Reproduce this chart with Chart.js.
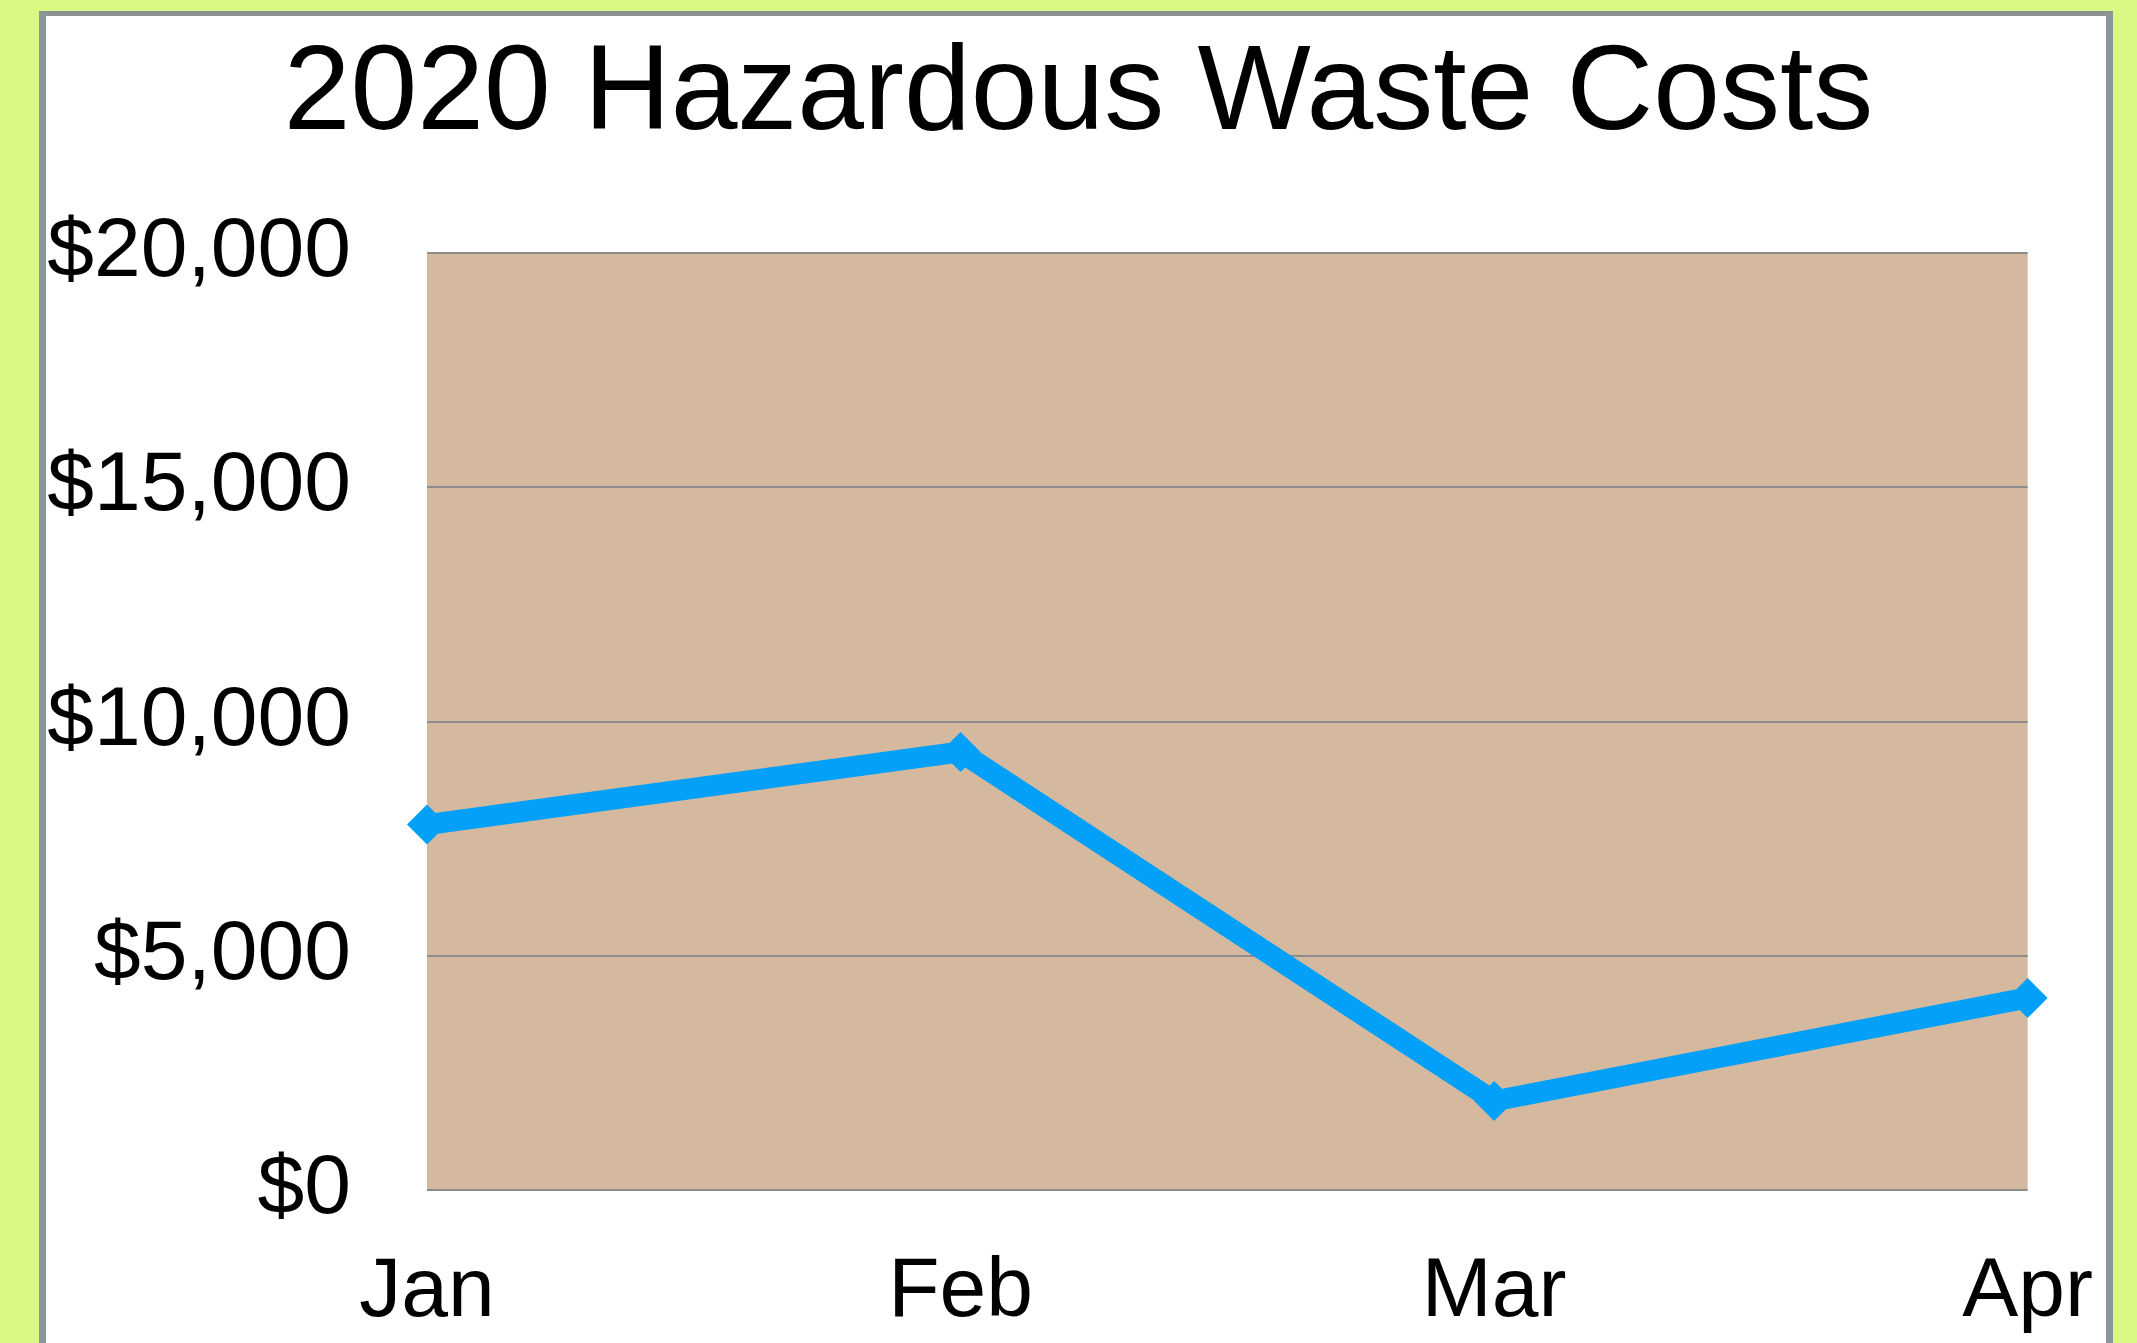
<!DOCTYPE html>
<html>
<head>
<meta charset="utf-8">
<title>2020 Hazardous Waste Costs</title>
<script src="https://cdn.jsdelivr.net/npm/chart.js@4"></script>
<style>
  html, body { margin: 0; padding: 0; overflow: hidden; }
  body { background: #d8fa84; width: 2137px; height: 1343px; position: relative; }
  #panel {
    position: absolute; left: 39px; top: 11px;
    width: 2060px; height: 1400px;
    background: #ffffff;
    border: 7px solid #879699;
    border-top-width: 5px;
    border-top-color: #8c9293;
  }
  #wasteChart { position: absolute; left: 0; top: 0; }
</style>
</head>
<body>
<div id="panel"></div>
<canvas id="wasteChart" width="2137" height="1343"></canvas>
<script>
// chart data
const months = ['Jan', 'Feb', 'Mar', 'Apr'];
const costs = [7800, 9350, 1900, 4100];
const yTicks = [0, 5000, 10000, 15000, 20000];
const chartTitle = '2020 Hazardous Waste Costs';

const FONT = "'Liberation Sans', Arial, sans-serif";

// tan fill behind the plot area
const plotBackground = {
  id: 'plotBackground',
  beforeDraw(chart) {
    const { ctx, chartArea } = chart;
    ctx.save();
    ctx.fillStyle = '#d4b99e';
    ctx.fillRect(chartArea.left, chartArea.top, chartArea.right - chartArea.left, chartArea.bottom - chartArea.top);
    ctx.restore();
  }
};

const ctx = document.getElementById('wasteChart').getContext('2d');
const chart = new Chart(ctx, {
  type: 'line',
  data: {
    labels: months,
    datasets: [{
      label: 'Costs',
      data: costs,
      borderColor: '#02a0f8',
      backgroundColor: '#02a0f8',
      borderWidth: 21,
      tension: 0,
      fill: false,
      pointStyle: 'rectRot',
      pointRadius: 20,
      pointBorderWidth: 0,
      pointBackgroundColor: '#02a0f8',
      clip: false
    }]
  },
  options: {
    responsive: false,
    animation: false,
    events: [],
    layout: { padding: { left: 20, right: 0, top: 0, bottom: 0 } },
    plugins: {
      legend: { display: false },
      tooltip: { enabled: false },
      title: {
        display: true,
        text: chartTitle,
        color: '#000',
        font: { family: FONT, size: 120, weight: 'normal' },
        padding: { top: 24, bottom: 85 }
      }
    },
    scales: {
      x: {
        grid: { display: false },
        border: { display: false },
        ticks: {
          color: '#000',
          font: { family: FONT, size: 84 },
          padding: 44,
          maxRotation: 0,
          autoSkip: false
        },
        afterFit: (s) => { s.height = 153; }
      },
      y: {
        min: 0,
        max: 20000,
        afterBuildTicks: (s) => { s.ticks = yTicks.map(v => ({ value: v })); },
        grid: { color: '#8c8c8c', lineWidth: 2, drawTicks: false },
        border: { display: false },
        ticks: {
          color: '#000',
          font: { family: FONT, size: 84 },
          padding: 76,
          callback: (v) => '$' + Number(v).toLocaleString('en-US')
        },
        afterFit: (s) => { s.width = 407; }
      },
      // empty right-hand axis, only reserves the white margin right of the plot
      yRight: {
        position: 'right',
        min: 0,
        max: 20000,
        grid: { display: false },
        border: { display: false },
        ticks: { display: false },
        afterFit: (s) => { s.width = 98; }
      }
    }
  },
  plugins: [plotBackground]
});
</script>
</body>
</html>
